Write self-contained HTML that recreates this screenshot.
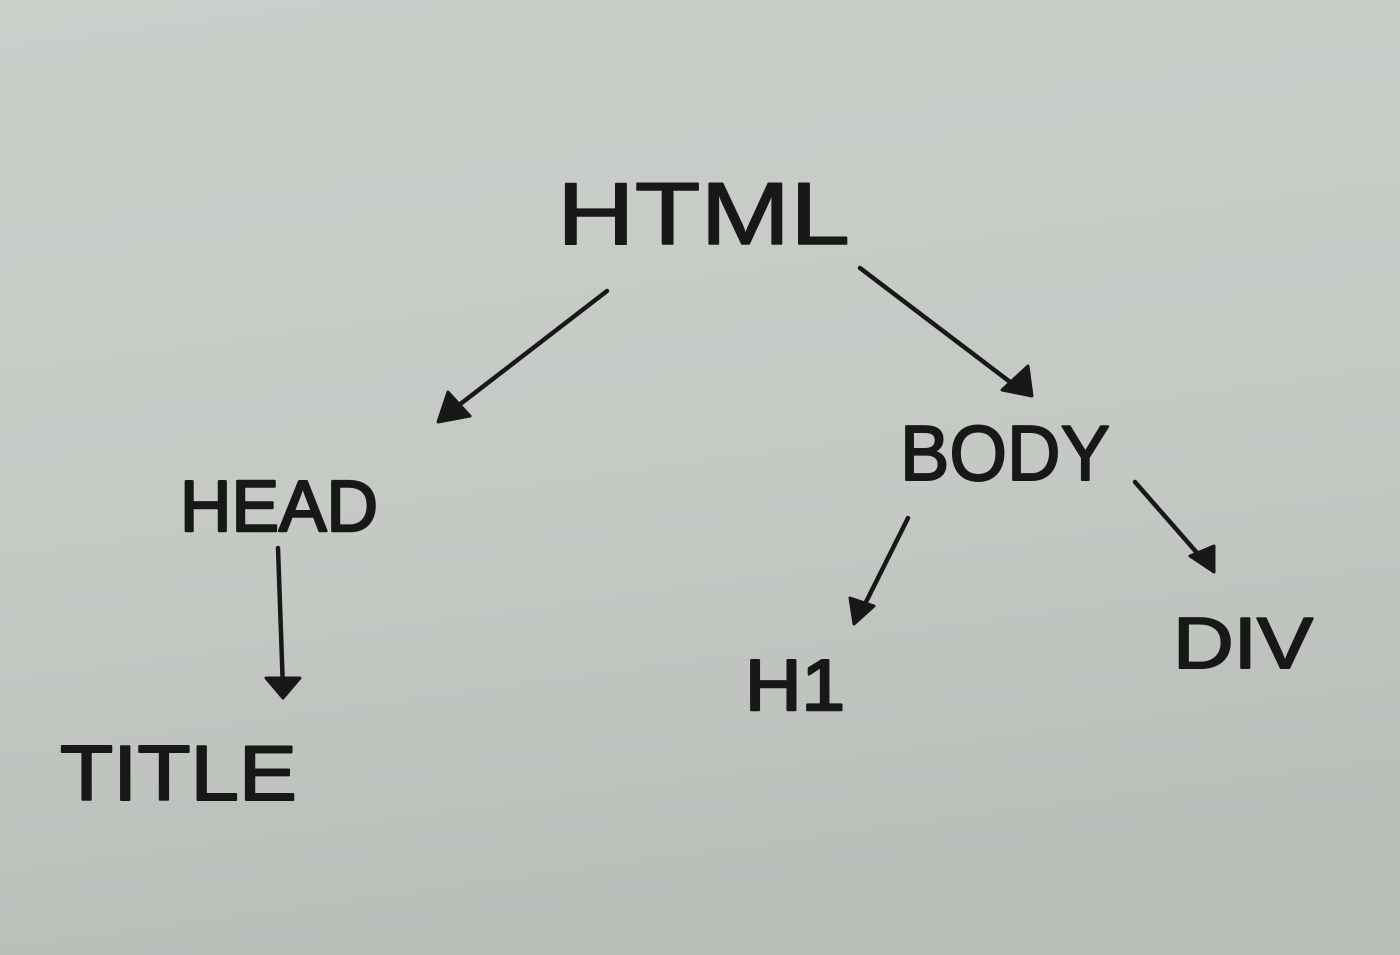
<!DOCTYPE html>
<html><head><meta charset="utf-8"><style>
html,body{margin:0;padding:0;}
body{width:1400px;height:955px;overflow:hidden;}
svg{display:block;}
text{font-family:"Liberation Sans",sans-serif;fill:#181818;stroke:#181818;stroke-width:1.5;stroke-linejoin:round;}
</style></head><body>
<svg width="1400" height="955" viewBox="0 0 1400 955" xmlns="http://www.w3.org/2000/svg">
<defs>
<linearGradient id="bg" x1="0" y1="0" x2="0.2" y2="1">
<stop offset="0" stop-color="#cbcfca"/>
<stop offset="0.6" stop-color="#c5c9c4"/>
<stop offset="1" stop-color="#babeb9"/>
</linearGradient>
</defs>
<rect width="1400" height="955" fill="url(#bg)"/>

<text x="557" y="244" font-size="88" textLength="293" lengthAdjust="spacingAndGlyphs">HTML</text>
<text x="180" y="531" font-size="72" textLength="198" lengthAdjust="spacingAndGlyphs" style="stroke-width:2.5">HEAD</text>
<text x="900" y="480" font-size="78" textLength="210" lengthAdjust="spacingAndGlyphs" style="stroke-width:2">BODY</text>
<text x="60" y="800" font-size="78" textLength="237" lengthAdjust="spacingAndGlyphs" style="stroke-width:2">TITLE</text>
<text x="745" y="710" font-size="72" textLength="100" lengthAdjust="spacingAndGlyphs" style="stroke-width:2.5">H1</text>
<text x="1173" y="668" font-size="72" textLength="140" lengthAdjust="spacingAndGlyphs" style="stroke-width:2">DIV</text>

<g stroke="#181818" stroke-width="4.5" stroke-linecap="round" fill="#181818">
<line x1="607" y1="291" x2="450" y2="412"/>
<polygon points="438,422 448,392 470,416" stroke-width="3" stroke-linejoin="round"/>
<line x1="860" y1="268" x2="1018" y2="388"/>
<polygon points="1032,396 1028,366 1002,390" stroke-width="3" stroke-linejoin="round"/>
<line x1="278" y1="548" x2="283" y2="690"/>
<polygon points="283,698 266,678 300,678" stroke-width="3" stroke-linejoin="round"/>
<line x1="908" y1="518" x2="860" y2="614"/>
<polygon points="854,624 850,598 874,606" stroke-width="3" stroke-linejoin="round"/>
<line x1="1135" y1="482" x2="1205" y2="562"/>
<polygon points="1214,572 1190,556 1214,546" stroke-width="3" stroke-linejoin="round"/>
</g>
</svg>
</body></html>
